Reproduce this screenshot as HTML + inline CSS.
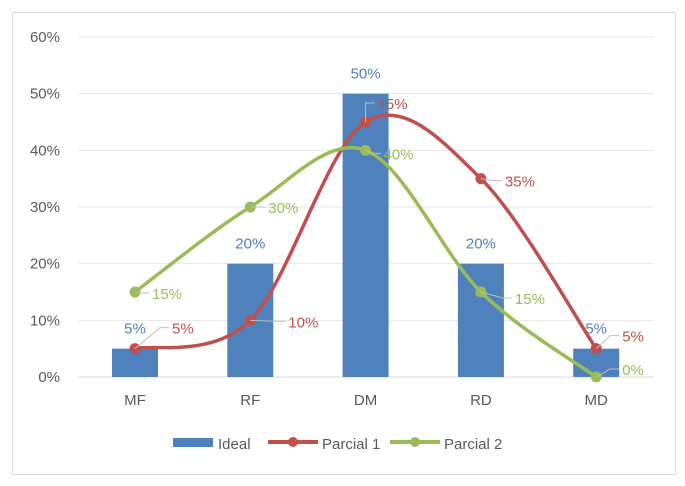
<!DOCTYPE html>
<html><head><meta charset="utf-8"><style>
body{margin:0;background:#fff;}
svg{display:block;font-family:"Liberation Sans",sans-serif;}
</style></head><body>
<svg width="685" height="486" id="c">
<rect x="12.5" y="12.5" width="663" height="462" fill="#fff" stroke="#d9d9d9" stroke-width="1"/>
<g id="grid"></g><g id="bars"></g><g id="lines"></g><g id="labels"></g>
<g>
<rect x="173" y="438" width="40" height="9" fill="#4f81bd"/>
<text x="218" y="449" font-size="15" fill="#595959">Ideal</text>
<line x1="268" y1="442" x2="318" y2="442" stroke="#c0504d" stroke-width="4"/>
<circle cx="293" cy="442" r="5" fill="#c0504d"/>
<text x="322" y="449" font-size="15" fill="#595959">Parcial 1</text>
<line x1="390" y1="442" x2="440" y2="442" stroke="#9bbb59" stroke-width="4"/>
<circle cx="415" cy="442" r="5" fill="#9bbb59"/>
<text x="444" y="449" font-size="15" fill="#595959">Parcial 2</text>
</g>
</svg>
<script>
const categories=["MF","RF","DM","RD","MD"];
const ideal=[5,20,50,20,5];
const parcial1=[5,10,45,35,5];
const parcial2=[15,30,40,15,0];
const yTicks=[0,10,20,30,40,50,60];
const NS="http://www.w3.org/2000/svg";
const y=v=>377-v*(340/60);
const x=i=>135+i*115.3;
// label placement offsets (layout only)
const offP1=[[37,-15],[38,7],[12,-13],[24,8],[26,-7]];
const offP2=[[17,7],[18,6],[18,9],[34,12],[26,-2]];
function mk(t,a,p){const e=document.createElementNS(NS,t);for(const k in a)e.setAttribute(k,a[k]);document.getElementById(p).appendChild(e);return e;}
yTicks.forEach(t=>{
 const l=mk('line',{x1:78,x2:654,y1:y(t),y2:y(t),stroke:t==0?'#d9d9d9':'#e6e6e6','stroke-width':1},'grid');
 
 
 const tx=mk('text',{x:60,y:y(t)+5,'text-anchor':'end','font-size':15,fill:'#595959'},'grid');
 tx.textContent=t+'%';
 
 
});
categories.forEach((c,i)=>{
 const tx=mk('text',{x:x(i),y:405,'text-anchor':'middle','font-size':15,fill:'#595959'},'grid');
 tx.textContent=c;
 
 
 const b=mk('rect',{x:x(i)-23,y:y(ideal[i]),width:46,height:y(0)-y(ideal[i]),fill:'#4f81bd'},'bars');
 
 
 const bl=mk('text',{x:x(i),y:y(ideal[i])-15,'text-anchor':'middle','font-size':15,fill:'#4f81bd'},'labels');
 bl.textContent=ideal[i]+'%';
 
 
});
function smooth(vals){
 const p=vals.map((v,i)=>[x(i),y(v)]);
 let d='M'+p[0][0]+','+p[0][1];
 for(let i=0;i<p.length-1;i++){
  const p0=p[i-1]||p[i],p1=p[i],p2=p[i+1],p3=p[i+2]||p[i+1];
  const c1=[p1[0]+(p2[0]-p0[0])/6,p1[1]+(p2[1]-p0[1])/6];
  const c2=[p2[0]-(p3[0]-p1[0])/6,p2[1]-(p3[1]-p1[1])/6];
  d+=' C'+c1+' '+c2+' '+p2;
 }
 return d;
}
[[parcial1,'#c0504d','parcial1',offP1],[parcial2,'#9bbb59','parcial2',offP2]].forEach(([vals,col,nm,off])=>{
 const pth=mk('path',{d:smooth(vals),fill:'none',stroke:col,'stroke-width':3.5},'lines');
 
 
 vals.forEach((v,i)=>{
  const lx=x(i)+off[i][0], ly=y(v)+off[i][1];
  const ln=mk('polyline',{points:[x(i),y(v),lx-12,ly-6,lx-3,ly-6].join(' '),fill:'none',stroke:'#bfbfbf','stroke-width':1},'labels');
  
  
  const c=mk('circle',{cx:x(i),cy:y(v),r:5.5,fill:col},'lines');
  
  
  const t=mk('text',{x:lx,y:ly,'font-size':15,fill:col},'labels');
  t.textContent=v+'%';
  
  
 });
});
</script>
</body></html>
